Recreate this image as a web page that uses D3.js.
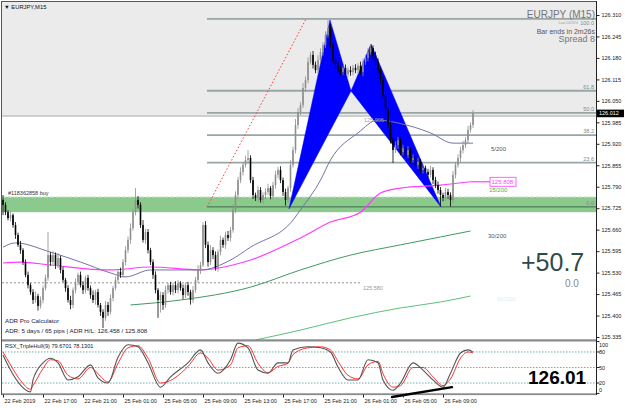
<!DOCTYPE html>
<html><head><meta charset="utf-8">
<script src="https://cdn.jsdelivr.net/npm/d3@7"></script>
<style>
body{margin:0;background:#fff;}
svg{display:block;font-family:"Liberation Sans",Arial,sans-serif;}
</style></head><body>
<svg id="c" width="625" height="408"></svg>
<script>
// ---------- DATA ----------
const firstOpen = 125.750;
const closes = [
125.735,125.713,125.695,125.704,125.674,125.644,125.614,125.598,125.562,125.523,
125.492,125.471,125.447,125.459,125.429,125.447,125.483,125.514,125.583,125.562,
125.583,125.553,125.574,125.538,125.508,125.483,125.447,125.432,125.477,125.501,
125.523,125.492,125.477,125.514,125.483,125.462,125.447,125.471,125.432,125.411,
125.393,125.432,125.411,125.453,125.483,125.508,125.532,125.523,125.562,125.598,
125.629,125.665,125.713,125.750,125.735,125.674,125.629,125.653,125.598,125.562,
125.523,125.477,125.447,125.462,125.432,125.477,125.492,125.471,125.492,125.477,
125.498,125.483,125.462,125.492,125.471,125.447,125.477,125.508,125.538,125.553,
125.674,125.614,125.562,125.598,125.583,125.544,125.592,125.629,125.614,125.644,
125.635,125.659,125.720,125.765,125.810,125.835,125.856,125.871,125.877,125.810,
125.765,125.756,125.780,125.750,125.765,125.774,125.786,125.762,125.795,125.826,
125.841,125.810,125.774,125.750,125.786,125.856,125.901,125.977,126.016,126.037,
126.089,126.113,126.168,126.189,126.159,126.143,126.174,126.198,126.219,126.249,
126.271,126.219,126.174,126.159,126.143,126.137,126.150,126.131,126.143,126.137,
126.150,126.143,126.156,126.137,126.168,126.180,126.198,126.210,126.189,126.168,
126.143,126.113,126.068,126.022,125.977,125.931,125.901,125.916,125.931,125.895,
125.907,125.886,125.901,125.871,125.877,125.856,125.865,125.841,125.847,125.835,
125.826,125.841,125.810,125.795,125.780,125.765,125.756,125.774,125.765,125.750,
125.826,125.856,125.877,125.901,125.916,125.931,125.962,125.977,126.012];
const wickUp = [
15,8,6,10,5,9,7,12,6,8, 10,6,9,14,7,11,8,10,70,9, 12,8,15,7,10,6,9,13,8,11,
7,10,12,6,9,8,14,7,10,6, 8,12,9,11,7,10,8,13,9,12, 10,14,9,36,12,8,15,10,9,7,
8,11,6,10,9,13,7,10,8,12, 9,6,11,8,10,7,12,9,14,10, 8,12,10,15,9,11,8,13,7,10,
12,9,15,11,10,14,9,13,24,8, 10,7,12,9,8,11,13,6,10,12, 9,11,8,10,7,14,10,18,12,9,
15,11,13,9,12,10,14,11,9,12, 24,10,8,12,9,11,7,10,8,12, 9,11,8,13,10,9,12,12,8,10,
11,9,13,10,8,12,9,11,10,8, 10,7,12,9,11,8,13,9,10,7, 9,12,8,10,11,9,7,13,10,8,
12,9,11,10,13,9,12,8,10];
const wickDn = [
31,9,7,10,8,12,6,11,9,7, 10,8,12,9,14,8,10,7,9,11, 8,12,9,10,7,11,8,13,9,10,
9,7,12,10,8,11,9,14,8,12, 31,9,12,8,10,7,11,9,8,10, 9,12,8,10,11,9,8,12,10,9,
12,10,54,38,15,9,11,8,10,9, 10,8,12,9,11,14,9,8,10,12, 6,10,14,9,12,8,11,10,9,12,
9,11,8,10,12,9,11,8,10,9, 12,9,10,8,11,13,9,10,8,11, 10,9,12,17,9,11,8,10,12,9,
9,12,10,8,11,9,10,8,11,9, 8,10,9,12,8,11,9,10,8,11, 10,9,11,8,12,9,10,8,11,9,
9,11,10,12,8,10,39,9,11,10, 10,12,9,11,8,10,12,9,11,10, 10,8,12,9,11,33,10,9,12,20,
9,11,8,12,10,9,11,8,9];

const priceTicks = [126.310,126.245,126.180,126.115,126.050,125.985,125.920,125.855,125.790,125.725,125.660,125.595,125.530,125.465,125.400,125.335];
const timeIdx = [0,16,32,48,64,80,96,112,128,144,160,176];
const timeLabels = ["22 Feb 2019","22 Feb 17:00","22 Feb 21:00","25 Feb 01:00","25 Feb 05:00","25 Feb 09:00","25 Feb 13:00","25 Feb 17:00","25 Feb 21:00","26 Feb 01:00","26 Feb 05:00","26 Feb 09:00"];
const lastPrice = 126.012;

// moving averages (bar index, price)
const maSlateIdx = [0,5,19,31,43,49,59,79,91,99,116,119,127,131,142,150,158,171,180,188];
const maSlateVal = [125.607,125.620,125.592,125.562,125.529,125.517,125.538,125.538,125.568,125.607,125.689,125.720,125.810,125.871,125.953,125.992,125.983,125.953,125.922,125.922];
const maPinkIdx = [0,7,19,43,59,79,92,99,119,131,143,151,159,175,187];
const maPinkVal = [125.559,125.562,125.553,125.538,125.547,125.538,125.553,125.568,125.635,125.683,125.713,125.771,125.786,125.795,125.805];
const maGreenIdx = [51,71,99,119,139,159,175,187];
const maGreenVal = [125.432,125.447,125.486,125.538,125.583,125.614,125.638,125.656];
const maLightIdx = [101,119,139,159,175,187];
const maLightVal = [125.326,125.356,125.393,125.423,125.441,125.459];

// objects
const grayBoxBottom = 126.004;
const zonePrices = [125.713, 125.759];
const fibIdx = [81.6, 121.2];
const fibPrice = [125.729, 126.298];
const fibLevels = [0, 23.6, 38.2, 50, 61.8, 100];
const patIdx = [114.4, 130.8, 139.2, 147.2, 175.2];
const patPrice = [125.723, 126.295, 126.080, 126.222, 125.729];
const dashedPrice = 125.499;

// RSX indicator
const rsxIdx = [0,3,7,11,12,16,19,22,26,30,35,38,42,46,50,54,58,63,67,74,79,82,86,91,94,98,102,106,110,114,116,122,127,131,134,138,142,146,150,152,156,159,164,168,172,176,179,183,186,188];
const rsxFast = [74,45,16,3,26,59,68,59,26,32,55,30,20,70,94,90,59,12,32,59,84,59,39,65,97,88,45,39,59,59,84,90,88,80,51,26,26,65,59,26,6,20,59,45,26,12,39,78,84,79.7];
const rsxSlow = [80,55,25,8,15,48,65,63,35,28,50,38,22,58,88,92,68,20,25,52,78,68,45,55,88,92,58,40,52,58,75,88,90,84,62,35,28,55,62,38,12,15,50,50,32,15,28,68,80,78.1];
const rsxLevels = [80, 50, 20];
const rsxAxis = [100, 80, 50, 20, 0];
const rsxTrendIdx = [155.6, 179.6];
const rsxTrendVal = [-7, 12];

// ---------- SCALES ----------
const svg = d3.select("#c");
const x = d3.scaleLinear().domain([0, 188]).range([3, 473]);
const y = d3.scaleLinear().domain([125.335, 126.310]).range([337, 15]);
const yi = d3.scaleLinear().domain([0, 100]).range([393.4, 341.6]);
const L = 2, R = 596, T = 2, B = 340, IT = 342, IB = 394;

const defs = svg.append("defs");
defs.append("clipPath").attr("id","cm").append("rect").attr("x",L).attr("y",T).attr("width",R-L).attr("height",B-T);
defs.append("clipPath").attr("id","ci").append("rect").attr("x",L).attr("y",IT).attr("width",R-L).attr("height",IB-IT);

svg.append("rect").attr("width",625).attr("height",408).attr("fill","#fff");
const g = svg.append("g").attr("clip-path","url(#cm)");

// gray box
g.append("rect").attr("x",L).attr("y",T).attr("width",R-L).attr("height",y(grayBoxBottom)-T).attr("fill","#ebebeb");
g.append("line").attr("x1",L).attr("x2",R).attr("y1",y(grayBoxBottom)).attr("y2",y(grayBoxBottom)).attr("stroke","#a8a8a8").attr("stroke-width",1);

// green zone
g.append("rect").attr("x",L).attr("y",y(zonePrices[1])).attr("width",R-L).attr("height",y(zonePrices[0])-y(zonePrices[1])).attr("fill","#8cc98c");
g.append("line").attr("x1",L).attr("x2",R).attr("y1",y(zonePrices[1])).attr("y2",y(zonePrices[1])).attr("stroke","#c9e6c9").attr("stroke-dasharray","4,2").attr("stroke-width",1);

// dashed price line
g.append("line").attr("x1",L).attr("x2",360).attr("y1",y(dashedPrice)).attr("y2",y(dashedPrice)).attr("stroke","#666").attr("stroke-dasharray","2,2").attr("stroke-width",0.7);

// fib levels
fibLevels.forEach(l => {
  const p = fibPrice[0] + (fibPrice[1]-fibPrice[0])*l/100;
  g.append("line").attr("x1",x(fibIdx[0])).attr("x2",R).attr("y1",y(p)).attr("y2",y(p))
    .attr("stroke", l===0 ? "#3d6a4a" : "#98a6a6").attr("stroke-width", l===0 ? 1 : 1.8);
  const ly = l===100 ? y(p)+6.5 : y(p)-2;
  g.append("text").attr("x",R-2).attr("y",ly).attr("text-anchor","end").attr("font-size",5.5).attr("fill","#7d8c8c").text(l.toFixed(1));
});
g.append("line").attr("x1",x(fibIdx[0])).attr("y1",y(fibPrice[0])).attr("x2",x(fibIdx[1])).attr("y2",y(fibPrice[1]))
  .attr("stroke","#ff3b3b").attr("stroke-width",1).attr("stroke-dasharray","1.5,2");

// harmonic pattern
const tri = (a,b,c) => [[x(patIdx[a]),y(patPrice[a])],[x(patIdx[b]),y(patPrice[b])],[x(patIdx[c]),y(patPrice[c])]];
[tri(0,1,2), tri(2,3,4)].forEach(pts => {
  g.append("path").attr("d", d3.line()(pts)+"Z").attr("fill","#0000ff").attr("stroke","#0000ff").attr("stroke-width",0.5);
});

// moving averages
const maLine = d3.line().x(d=>x(d[0])).y(d=>y(d[1])).curve(d3.curveMonotoneX);
const drawMA = (idx, val, color, w) => g.append("path").attr("d", maLine(idx.map((d,i)=>[d,val[i]]))).attr("fill","none").attr("stroke",color).attr("stroke-width",w);
drawMA(maLightIdx, maLightVal, "#5cc07a", 1);
drawMA(maGreenIdx, maGreenVal, "#3f9a60", 1);
drawMA(maPinkIdx, maPinkVal, "#ff3cff", 1.2);
drawMA(maSlateIdx, maSlateVal, "#7373a8", 1);

// candles
const candles = closes.map((c,i) => {
  const o = i===0 ? firstOpen : closes[i-1];
  return {i, o, c, h: Math.max(o,c)+wickUp[i]/1000, l: Math.min(o,c)-wickDn[i]/1000};
});
const cg = g.append("g");
candles.forEach(d => {
  const col = d.c >= d.o ? "#8e8e8e" : "#000";
  cg.append("line").attr("x1",x(d.i)).attr("x2",x(d.i)).attr("y1",y(d.h)).attr("y2",y(d.l)).attr("stroke",col).attr("stroke-width",0.8);
  const top = y(Math.max(d.o,d.c)), bot = y(Math.min(d.o,d.c));
  cg.append("rect").attr("x",x(d.i)-0.8).attr("width",1.6).attr("y",top).attr("height",Math.max(1,bot-top)).attr("fill",col);
});

// pink MA label
const pl = maPinkVal[maPinkVal.length-1];
g.append("line").attr("x1",x(maPinkIdx[maPinkIdx.length-1])).attr("x2",490).attr("y1",y(pl)).attr("y2",y(pl)).attr("stroke","#ff3cff").attr("stroke-width",1.2);
g.append("rect").attr("x",490).attr("y",y(pl)-4.5).attr("width",26).attr("height",9).attr("fill","#fff").attr("stroke","#ff3cff").attr("stroke-width",0.8);
g.append("text").attr("x",491.5).attr("y",y(pl)+2).attr("font-size",6).attr("fill","#ff3cff").text("125.808");

// texts on chart
const txt = (t,xx,yy,size,color,anchor,weight) => svg.append("text").attr("x",xx).attr("y",yy).attr("font-size",size).attr("fill",color).attr("text-anchor",anchor||"start").attr("font-weight",weight||"normal").text(t);
txt("▼ EURJPY,M15",4,9,5.8,"#111");
txt("#118362858 buy",8,195,5.5,"#333");
txt("5/200",491,151,6,"#555");
txt("15/200",489,192,6,"#3cb83c");
txt("30/200",488,238,6,"#555");
txt("60/200",497,301,6,"#d2f4f4");
txt("125.580",363,290,5.5,"#999");
txt("125.906",364,122,5.5,"#a0a0a0");
txt("EURJPY (M15)",595,18,10,"#757575","end");
txt("Last 10/20%",578,24,3.5,"#999","end");
txt("Bar ends in 2m26s",595,34,7,"#555","end");
txt("Spread 8",595,42,9,"#777","end");
txt("+50.7",521,271,25,"#2f4a4a");
txt("0.0",565,287,10,"#888");
txt("ADR Pro Calculator",5,323,6.2,"#202045");
txt("ADR: 5 days / 65 pips | ADR H/L: 126.458 / 125.808",5,332.5,6.2,"#202045");

// ---------- INDICATOR ----------
const gi = svg.append("g").attr("clip-path","url(#ci)");
rsxLevels.forEach(v => gi.append("line").attr("x1",L).attr("x2",R).attr("y1",yi(v)).attr("y2",yi(v)).attr("stroke","#5aa5a8").attr("stroke-width",0.9).attr("stroke-dasharray","1.5,1.5"));
const rl = d3.line().x(d=>x(d[0])).y(d=>yi(d[1])).curve(d3.curveMonotoneX);
gi.append("path").attr("d", rl(rsxIdx.map((d,i)=>[d,rsxSlow[i]]))).attr("fill","none").attr("stroke","#ff2f2f").attr("stroke-width",1);
gi.append("path").attr("d", rl(rsxIdx.map((d,i)=>[d,rsxFast[i]]))).attr("fill","none").attr("stroke","#555").attr("stroke-width",1.1);
txt("RSX_TripleHull(9) 79.6701 78.1301",5,347.5,5.6,"#222");
txt("126.01",528,384,19,"#000","start","bold");

// frames
svg.append("rect").attr("x",L).attr("y",339.3).attr("width",R-L).attr("height",2.2).attr("fill","#8a8a8a");
svg.append("rect").attr("x",L).attr("y",393.3).attr("width",R-L).attr("height",1.8).attr("fill","#8a8a8a");
svg.append("line").attr("x1",1.5).attr("x2",1.5).attr("y1",1).attr("y2",395).attr("stroke","#555");
svg.append("line").attr("x1",1).attr("x2",R).attr("y1",1.5).attr("y2",1.5).attr("stroke","#555");
svg.append("line").attr("x1",R+0.5).attr("x2",R+0.5).attr("y1",1).attr("y2",395).attr("stroke","#222");

// rsx trend line (drawn over frame)
svg.append("line").attr("x1",x(rsxTrendIdx[0])).attr("y1",yi(rsxTrendVal[0])).attr("x2",x(rsxTrendIdx[1])).attr("y2",yi(rsxTrendVal[1])).attr("stroke","#000").attr("stroke-width",2.4).attr("stroke-linecap","round");

// price axis
const ay = svg.append("g").attr("transform",`translate(${R+0.5},0)`)
  .call(d3.axisRight(y).tickValues(priceTicks).tickSize(3).tickPadding(2).tickFormat(d3.format(".3f")));
ay.select(".domain").remove();
ay.selectAll("text").attr("font-size",5.5).attr("fill","#222").attr("font-family","Liberation Sans, Arial");
ay.selectAll("line").attr("stroke","#222");
// current price label
svg.append("rect").attr("x",R+1).attr("y",y(lastPrice)-3.8).attr("width",27).attr("height",7.6).attr("fill","#000");
svg.append("text").attr("x",R+3).attr("y",y(lastPrice)+2).attr("font-size",5.5).attr("fill","#fff").text(lastPrice.toFixed(3));

// indicator axis
rsxAxis.forEach(v => {
  svg.append("line").attr("x1",R+0.5).attr("x2",R+3.5).attr("y1",yi(v)).attr("y2",yi(v)).attr("stroke","#222");
  const ty = Math.min(390, Math.max(345, yi(v)));
  svg.append("text").attr("x",R+3).attr("y",ty+2).attr("font-size",5.5).attr("fill","#222").text(v);
});

// time axis
const ax = svg.append("g").attr("transform","translate(0,394.5)")
  .call(d3.axisBottom(x).tickValues(timeIdx).tickSize(3).tickPadding(2).tickFormat((d,i)=>timeLabels[i]));
ax.select(".domain").remove();
ax.selectAll("line").attr("stroke","#222");
ax.selectAll("text").attr("text-anchor","start").attr("dx",1).attr("font-size",5.5).attr("fill","#222").attr("font-family","Liberation Sans, Arial");
</script>
</body></html>
